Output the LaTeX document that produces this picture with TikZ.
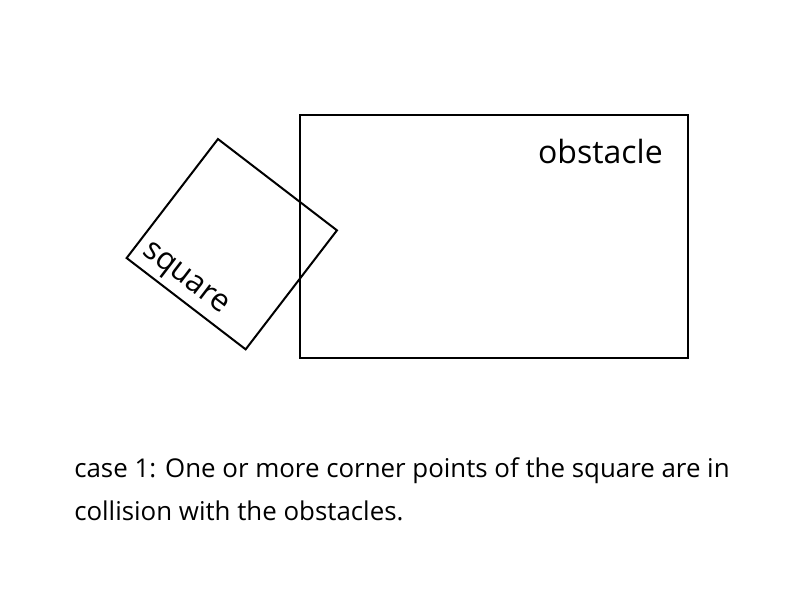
\documentclass[tikz,border=0pt]{standalone}
\usepackage{fontspec}
\setmainfont{Open Sans}
\begin{document}
\begin{tikzpicture}[x=0.75pt,y=0.75pt,yscale=-1,xscale=1]
			\useasboundingbox (0,0) rectangle (810,605);
			%Shape: Rectangle [id:obstacle]
			\draw [line width=1.5] (300,115) rectangle (688,358);
			%Shape: Square [id:square]
			\node (sq) [draw, line width=1.5, rotate=-37.5, minimum size=112.5pt, inner sep=0pt] at (231.8,244.2) {};

			% Text Node
			\node (obs) [anchor=base east, inner sep=0pt] at (663,163.3) {\fontsize{24}{28}\selectfont obstacle};
			% Text Node
			\node (sqlbl) [rotate=-37.5, inner sep=0pt] at (184,280) {\fontsize{23.5}{28}\selectfont square};
			% Text Node
			\node (cap1) [anchor=base west, inner sep=0pt] at (74,478) {\fontsize{19.4}{24}\selectfont case 1: One or more corner points of the square are in};
			% Text Node
			\node (cap2) [anchor=base west, inner sep=0pt] at (74,520) {\fontsize{19.4}{24}\selectfont collision with the obstacles.};
\end{tikzpicture}
\end{document}
